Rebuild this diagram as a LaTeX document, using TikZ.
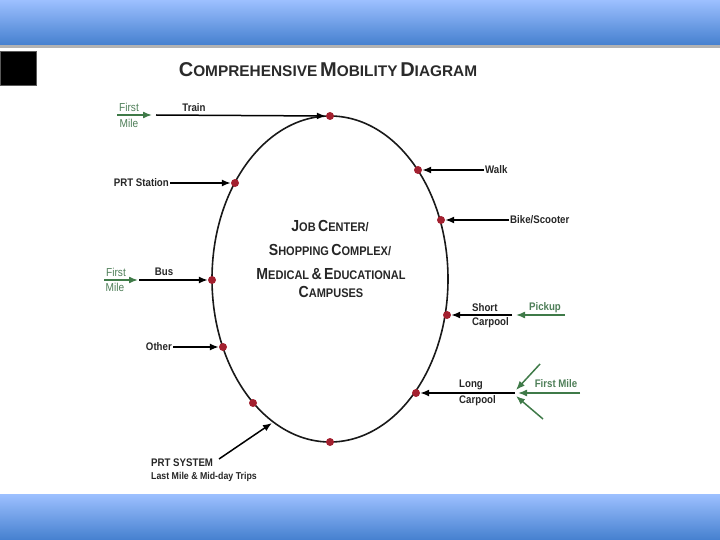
\documentclass[tikz,border=0pt]{standalone}
\usepackage{fontspec}
\setmainfont{Liberation Sans}
\newfontfamily\narrowf[FakeStretch=0.88]{Liberation Sans}
\newfontfamily\titlef[FakeStretch=1.0]{Liberation Sans}
\usetikzlibrary{arrows.meta}
\definecolor{dotred}{HTML}{A3202F}
\definecolor{grn}{HTML}{3F7A48}
\definecolor{grntext}{HTML}{4E7E58}
\definecolor{bandlight}{HTML}{9DC0FF}
\definecolor{banddark}{HTML}{4580CF}
\definecolor{titlegray}{HTML}{2A2A2A}
\newcommand{\tsc}[2]{{\fontsize{20}{20}\selectfont #1}{\fontsize{15.4}{15.4}\selectfont #2}}
\newcommand{\ctrsc}[2]{{\fontsize{16}{16}\selectfont #1}{\fontsize{12.5}{12.5}\selectfont #2}}
\tikzset{
  dot/.style={circle,fill=dotred,inner sep=0pt,minimum size=8pt},
  lbl/.style={font=\narrowf\bfseries\fontsize{11}{12}\selectfont,text=black!85,inner sep=1pt},
  glbl/.style={font=\narrowf\fontsize{11.5}{12}\selectfont,text=grntext,inner sep=1pt},
  gblbl/.style={font=\narrowf\bfseries\fontsize{11}{12}\selectfont,text=grntext,inner sep=1pt},
  ctr/.style={font=\narrowf\bfseries,text=black!85,inner sep=1pt},
  barr/.style={line width=1.5pt,-{Latex[length=9pt,width=7pt]}},
  garr/.style={line width=1.5pt,draw=grn,-{Latex[length=9pt,width=7pt]}},
}
\begin{document}
\begin{tikzpicture}[x=1pt,y=-1pt]
\useasboundingbox (0,0) rectangle (720,540);
% bands
\shade[top color=bandlight,bottom color=banddark] (0,0) rectangle (720,45);
\fill[gray!60] (0,45) rectangle (720,48);
\shade[top color=bandlight,bottom color=banddark] (0,494) rectangle (720,540);
\filldraw[fill=black,draw=gray!70!black,line width=0.8pt] (0.5,51) rectangle (36,85);
% title
\node[font=\titlef\bfseries,text=titlegray] (title) at (328,70) {\tsc{C}{OMPREHENSIVE} \tsc{M}{OBILITY} \tsc{D}{IAGRAM}};
% ellipse
\draw[line width=1.6pt,black!90] (330,279) ellipse [x radius=118, y radius=163];
% center text
\node[ctr] (c1) at (330,226) {\ctrsc{J}{OB} \ctrsc{C}{ENTER/}};
\node[ctr] (c2) at (330,250) {\ctrsc{S}{HOPPING} \ctrsc{C}{OMPLEX/}};
\node[ctr] (c3) at (331,274) {\ctrsc{M}{EDICAL} \ctrsc{\&}{} \ctrsc{E}{DUCATIONAL}};
\node[ctr] (c4) at (331,292) {\ctrsc{C}{AMPUSES}};
% dots
\node[dot] (dtrain) at (330,116) {};
\node[dot] (dprt) at (235,183) {};
\node[dot] (dwalk) at (418,170) {};
\node[dot] (dbike) at (441,220) {};
\node[dot] (dbus) at (212,280) {};
\node[dot] (dshort) at (447,315) {};
\node[dot] (dother) at (223,347) {};
\node[dot] (dlong) at (416,393) {};
\node[dot] (dlow) at (253,403) {};
\node[dot] (dbottom) at (330,442) {};
% Train
\coordinate (trainS) at (156,115);
\draw[barr] (trainS) -- (dtrain.west);
\node[lbl] (train) at (194,108) {Train};
\coordinate (fm1S) at (117,115);
\draw[garr] (fm1S) -- (152,115);
\node[glbl] (fm1a) at (129,107) {First};
\node[glbl] (fm1b) at (129,123) {Mile};
% PRT Station
\node[lbl,anchor=east] (prtst) at (170,183) {PRT Station};
\draw[barr] (prtst.east) -- (dprt.west);
% Walk
\node[lbl,anchor=west] (walk) at (484,170) {Walk};
\draw[barr] (walk.west) -- (dwalk.east);
% Bike
\node[lbl,anchor=west] (bike) at (509,220) {Bike/Scooter};
\draw[barr] (bike.west) -- (dbike.east);
% Bus
\coordinate (busS) at (139,280);
\draw[barr] (busS) -- (dbus.west);
\node[lbl] (bus) at (164,272) {Bus};
\coordinate (fm2S) at (104,280);
\draw[garr] (fm2S) -- (138,280);
\node[glbl] (fm2a) at (116,272) {First};
\node[glbl] (fm2b) at (115,287) {Mile};
% Other
\node[lbl,anchor=east] (other) at (173,347) {Other};
\draw[barr] (other.east) -- (dother.west);
% Short carpool
\coordinate (shortS) at (512,315);
\draw[barr] (shortS) -- (dshort.east);
\node[lbl,anchor=west] (short) at (471,308) {Short};
\node[lbl,anchor=west] (carp1) at (471,323) {Carpool};
\coordinate (pickS) at (565,315);
\draw[garr] (pickS) -- (516,315);
\node[gblbl] (pickup) at (545,308) {Pickup};
% Long carpool
\coordinate (longS) at (515,393);
\draw[barr] (longS) -- (dlong.east);
\node[lbl,anchor=west] (long) at (458,385) {Long};
\node[lbl,anchor=west] (carp2) at (458,401) {Carpool};
\coordinate (fm3S) at (580,393);
\draw[garr] (fm3S) -- (518,393);
\coordinate (fm3U) at (540,364);
\coordinate (fm3D) at (543,419);
\draw[garr] (fm3U) -- (516,390);
\draw[garr] (fm3D) -- (516,396);
\node[gblbl] (fm3) at (556,384) {First Mile};
% PRT system
\coordinate (prtsysS) at (219,459);
\coordinate (prtsysE) at (272,423);
\draw[barr] (prtsysS) -- (prtsysE);
\node[lbl,anchor=west] (prtsys) at (150,463) {PRT SYSTEM};
\node[lbl,anchor=west,font=\narrowf\bfseries\fontsize{10}{11}\selectfont] (prtsys2) at (150,477) {Last Mile \& Mid-day Trips};
\end{tikzpicture}
\end{document}
